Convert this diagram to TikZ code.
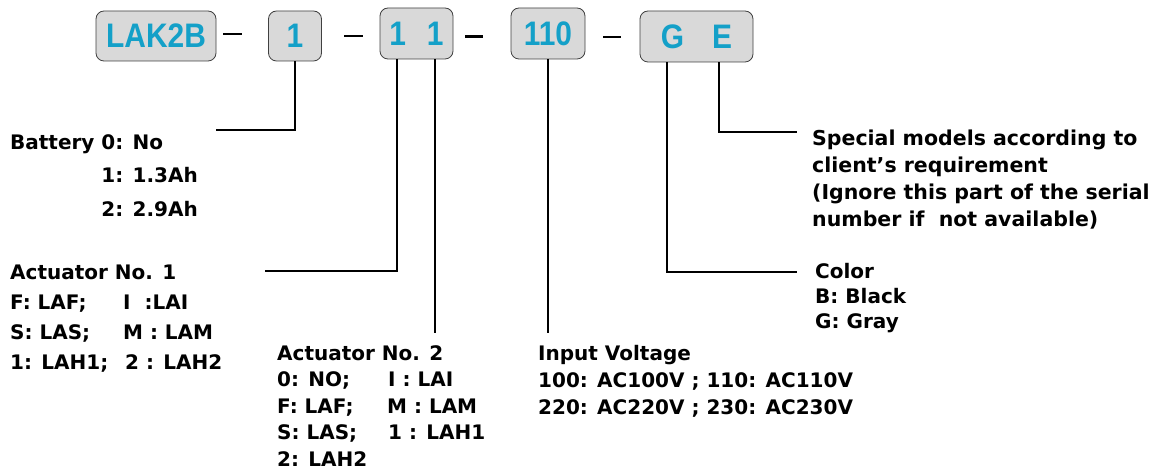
\documentclass[tikz,border=0pt]{standalone}
\usepackage{fontspec}
\usepackage{xcolor}
\newfontfamily\lblfont{DejaVu Sans}
\newfontfamily\codefont{Liberation Sans}[FakeStretch=0.88]
\definecolor{codecyan}{RGB}{20,160,200}
\newcommand{\lcol}[2]{\makebox[#1][l]{#2}}

\begin{document}
\begin{tikzpicture}[x=1pt,y=-1pt,
codebox/.style={draw=black!75,fill=black!15,rounded corners=8pt,line width=0.8pt,inner sep=0pt,
  minimum height=50pt,text=codecyan,font=\codefont\bfseries\fontsize{34}{34}\selectfont},
sep/.style={line width=2.2pt},
lead/.style={line width=1.5pt},
info/.style={anchor=north west,inner sep=0pt,align=left,font=\lblfont\bfseries\fontsize{20}{#1}\selectfont}]
\useasboundingbox (0,0) rectangle (1163,470);
\node[codebox,minimum width=120pt] (lak) at (156,36) {LAK2B};
\node[codebox,minimum width=53pt] (bat) at (295,36) {1};
\node[codebox,minimum width=73pt,minimum height=51pt] (act) at (416.5,33.5) {1\hspace{21pt}1};
\node[codebox,minimum width=74pt,minimum height=51pt] (volt) at (548,33.5) {110};
\node[codebox,minimum width=113pt,minimum height=51pt] (opt) at (696.5,36.5) {G\hspace{28pt}E};
\draw[sep] ([xshift=7pt,yshift=2pt]lak.east) -- ++(19,0);
\draw[sep] ([xshift=22.5pt]bat.east) -- ++(19,0);
\draw[sep] ([xshift=12pt,yshift=-3pt]act.east) -- ++(18,0);
\draw[sep] ([xshift=18pt,yshift=-3.5pt]volt.east) -- ++(18,0);
\coordinate (batEnd) at (216,130);
\coordinate (act1End) at (265,271);
\coordinate (act2End) at (435,333);
\coordinate (voltEnd) at (548,333);
\coordinate (colEnd) at (797,272);
\coordinate (specEnd) at (797,132);
\draw[lead] (bat.south) |- (batEnd);
\draw[lead] ([xshift=-19.5pt]act.south) |- (act1End);
\draw[lead] ([xshift=18.5pt]act.south) -- (act2End);
\draw[lead] (volt.south) -- (voltEnd);
\draw[lead] ([xshift=-29.5pt]opt.south) |- (colEnd);
\draw[lead] ([xshift=22.5pt]opt.south) |- (specEnd);
\node[info=33.5] (batTxt) at (10,134) {Battery 0: No\\\phantom{Battery }1: 1.3Ah\\\phantom{Battery }2: 2.9Ah};
\node[info=30] (act1Txt) at (10,265) {Actuator No. 1\\\lcol{113pt}{F: LAF;}I\ \ :LAI\\\lcol{113pt}{S: LAS;}M : LAM\\\lcol{115pt}{1: LAH1;}2 : LAH2};
\node[info=26.5] (act2Txt) at (277,345) {Actuator No. 2\\\lcol{111pt}{0: NO;}I : LAI\\\lcol{110pt}{F: LAF;}M : LAM\\\lcol{111pt}{S: LAS;}1 : LAH1\\2: LAH2};
\node[info=27] (voltTxt) at (538,345) {Input Voltage\\100: AC100V ; 110: AC110V\\220: AC220V ; 230: AC230V};
\node[info=27,font=\lblfont\bfseries\fontsize{20.5}{27}\selectfont] (specTxt) at (812,130) {Special models according to\\client’s requirement\\(Ignore this part of the serial\\number if\ \ not available)};
\node[info=25] (colTxt) at (815,263) {Color\\B: Black\\G: Gray};
\end{tikzpicture}
\end{document}
